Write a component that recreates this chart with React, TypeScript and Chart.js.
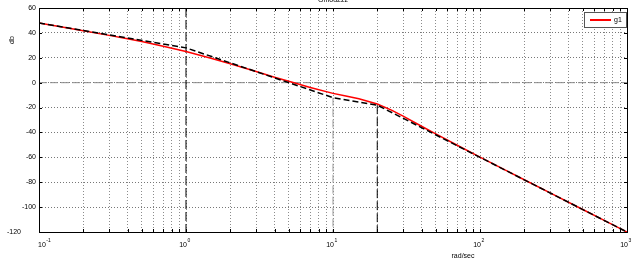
import React, { useEffect, useRef } from "react";
import Chart from "chart.js/auto";

const titleText = "Gmod2zz";
const xAxisLabel = "rad/sec";
const yAxisLabel = "db";
const seriesName = "g1";

// Bode magnitude
const freqs = [0.1, 0.15, 0.2, 0.3, 0.4, 0.5, 0.7, 1, 1.5, 2, 3, 4, 5, 7, 10, 12, 15, 20, 25, 30, 40, 50, 70, 100, 150, 200, 300, 500, 700, 1000];
const magnitudeDb = [47.9, 44.3, 41.8, 38.0, 35.3, 33.0, 29.3, 25.0, 19.4, 15.2, 8.9, 4.4, 1.1, -3.9, -8.6, -10.6, -13.0, -17.1, -22.1, -26.9, -35.0, -41.1, -50.3, -59.8, -70.5, -78.0, -88.6, -101.9, -110.7, -120.0];

// Asymptotic approximation (dashed)
const asymFreqs = [0.1, 1, 10, 20, 1000];
const asymDb = [47.96, 27.96, -12.04, -18.06, -120];

// Break-frequency markers
const breakOneFreqs = [1, 1];
const breakOneDb = [60, -120];
const breakTenFreqs = [10, 10];
const breakTenDb = [-12.04, -120];
const breakTwentyFreqs = [20, 20];
const breakTwentyDb = [-18.06, -120];

// Zero-dB reference line
const zeroFreqs = [0.1, 1000];
const zeroDb = [0, 0];

const yTicks = [60, 40, 20, 0, -20, -40, -60, -80, -100, -120];
const decadeExponents = [-1, 0, 1, 2, 3];

const pts = (xs: number[], ys: number[]) => xs.map((x, i) => ({ x, y: ys[i] }));

const FONT = "'Liberation Sans', Arial, sans-serif";

const decorPlugin = {
  id: "decor",
  afterDatasetsDraw(chart: any) {
    const { ctx, chartArea: a, scales } = chart;
    const xs = scales.x;
    const ys = scales.y;
    ctx.save();
    ctx.strokeStyle = "#000";
    ctx.lineWidth = 1;
    ctx.setLineDash([]);
    ctx.strokeRect(Math.round(a.left) + 0.5, Math.round(a.top) + 0.5, Math.round(a.right - a.left), Math.round(a.bottom - a.top));
    ctx.beginPath();
    xs.ticks.forEach((t: any) => {
      const px = Math.round(xs.getPixelForValue(t.value)) + 0.5;
      ctx.moveTo(px, a.bottom);
      ctx.lineTo(px, a.bottom - 3);
      ctx.moveTo(px, a.top);
      ctx.lineTo(px, a.top + 3);
    });
    yTicks.forEach((v) => {
      const py = Math.round(ys.getPixelForValue(v)) + 0.5;
      ctx.moveTo(a.left, py);
      ctx.lineTo(a.left + 3, py);
      ctx.moveTo(a.right, py);
      ctx.lineTo(a.right - 3, py);
    });
    ctx.stroke();

    ctx.fillStyle = "#000";
    ctx.font = `7px ${FONT}`;
    ctx.textAlign = "right";
    ctx.textBaseline = "middle";
    yTicks.forEach((v, i) => {
      const py = ys.getPixelForValue(v);
      const xr = i === yTicks.length - 1 ? a.left - 18 : a.left - 3;
      ctx.fillText(String(v), xr, py);
    });
    decadeExponents.forEach((e, i) => {
      const px = xs.getPixelForValue(Math.pow(10, e));
      ctx.font = `7px ${FONT}`;
      ctx.textBaseline = "alphabetic";
      const w = ctx.measureText("10").width;
      let left = px + 1 - w;
      if (i === 0) left = px - 1;
      ctx.textAlign = "left";
      ctx.fillText("10", left, a.bottom + 15);
      ctx.font = `5px ${FONT}`;
      ctx.fillText(String(e), left + w + 0.5, a.bottom + 10);
    });
    ctx.font = `7px ${FONT}`;
    ctx.textAlign = "center";
    ctx.textBaseline = "middle";
    ctx.fillText(xAxisLabel, 463, a.bottom + 24);
    ctx.save();
    ctx.translate(12, 40);
    ctx.rotate(-Math.PI / 2);
    ctx.fillText(yAxisLabel, 0, 0);
    ctx.restore();
    ctx.textBaseline = "alphabetic";
    ctx.fillText(titleText, 333, 2);
    ctx.fillStyle = "#fff";
    ctx.fillRect(584, 12, 42, 15);
    ctx.strokeStyle = "#555";
    ctx.strokeRect(584.5, 12.5, 42, 15);
    ctx.strokeStyle = "#ff0000";
    ctx.lineWidth = 2;
    ctx.beginPath();
    ctx.moveTo(590, 20);
    ctx.lineTo(611, 20);
    ctx.stroke();
    ctx.fillStyle = "#000";
    ctx.textAlign = "left";
    ctx.textBaseline = "middle";
    ctx.fillText(seriesName, 614, 20);
    ctx.restore();
  },
};

export default function App() {
  const ref = useRef<HTMLCanvasElement | null>(null);
  useEffect(() => {
    if (!ref.current) return;
    const minorTicks: { value: number }[] = [];
    for (let e = -1; e < 3; e++) {
      for (let m = 1; m <= 9; m++) minorTicks.push({ value: m * Math.pow(10, e) });
    }
    minorTicks.push({ value: 1000 });
    const chart = new Chart(ref.current, {
      type: "line",
      data: {
        datasets: [
          { label: "zero", data: pts(zeroFreqs, zeroDb), borderColor: "#8a8a8a", borderWidth: 1, borderDash: [8, 3], pointRadius: 0, order: 5 },
          { label: "b10", data: pts(breakTenFreqs, breakTenDb), borderColor: "#999", borderWidth: 1, borderDash: [8, 3], pointRadius: 0, order: 4 },
          { label: seriesName, data: pts(freqs, magnitudeDb), borderColor: "#ff0000", borderWidth: 1.5, pointRadius: 0, order: 2 },
          { label: "asym", data: pts(asymFreqs, asymDb), borderColor: "#000", borderWidth: 1.5, borderDash: [6, 3], pointRadius: 0, order: 1 },
          { label: "b1", data: pts(breakOneFreqs, breakOneDb), borderColor: "#000", borderWidth: 1, borderDash: [9, 3], pointRadius: 0, order: 3 },
          { label: "b20", data: pts(breakTwentyFreqs, breakTwentyDb), borderColor: "#000", borderWidth: 1, borderDash: [9, 3], pointRadius: 0, order: 3 },
        ],
      },
      options: {
        animation: false,
        responsive: false,
        maintainAspectRatio: false,
        layout: { padding: { left: 0, right: 13, top: 8, bottom: 0 } },
        plugins: { legend: { display: false }, tooltip: { enabled: false }, title: { display: false } },
        elements: { line: { tension: 0 } },
        scales: {
          x: {
            type: "logarithmic",
            min: 0.1,
            max: 1000,
            afterBuildTicks: (s: any) => {
              s.ticks = minorTicks.map((t) => ({ value: t.value }));
            },
            afterFit: (s: any) => {
              s.height = 30;
            },
            ticks: { display: false },
            grid: { color: "#8c8c8c", drawTicks: false, lineWidth: 1 },
            border: { display: false, dash: [1, 2] },
          },
          y: {
            type: "linear",
            min: -120,
            max: 60,
            afterBuildTicks: (s: any) => {
              s.ticks = yTicks.map((v) => ({ value: v }));
            },
            afterFit: (s: any) => {
              s.width = 39;
            },
            ticks: { display: false },
            grid: { color: "#777", drawTicks: false, lineWidth: 1 },
            border: { display: false, dash: [1, 2] },
          },
        },
      },
      plugins: [decorPlugin],
    } as any);
    return () => chart.destroy();
  }, []);
  return (
    <div style={{ position: "absolute", left: 0, top: 0, width: 640, height: 262, background: "#fff" }}>
      <canvas ref={ref} width={640} height={262} style={{ display: "block" }} />
    </div>
  );
}
